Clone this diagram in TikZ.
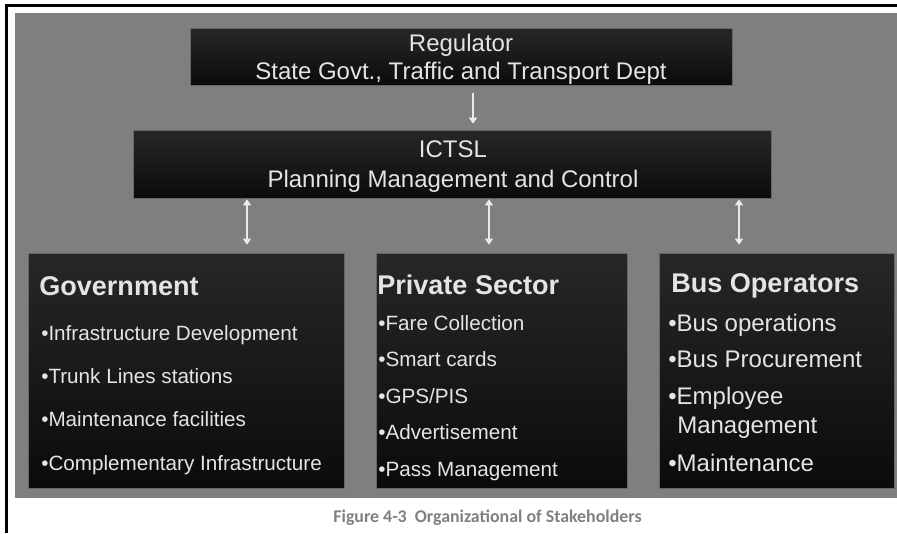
\documentclass[tikz,border=0pt]{standalone}
\usepackage{fontspec}
\setmainfont{Liberation Sans}
\newfontfamily\capfont{Carlito}
\usetikzlibrary{arrows.meta}

\definecolor{panelgray}{HTML}{7F7F7F}
\definecolor{boxtop}{HTML}{272727}
\definecolor{boxbottom}{HTML}{0B0B0B}
\definecolor{boxtext}{HTML}{E4E4E4}
\definecolor{arrowgray}{HTML}{EAEAEA}
\definecolor{capgray}{HTML}{808080}

\tikzset{
  box/.style={rectangle, top color=boxtop, bottom color=boxbottom, draw=black!60, line width=0.4pt, inner sep=0pt},
  title/.style={anchor=base, inner sep=0pt, text=boxtext, font=\fontsize{18}{21}\selectfont},
  head/.style={anchor=base west, inner sep=0pt, text=boxtext, font=\fontsize{20.3}{24}\selectfont\bfseries},
  item/.style={anchor=base west, inner sep=0pt, text=boxtext, font=\fontsize{15.5}{18}\selectfont},
  bigitem/.style={item, font=\fontsize{18}{21}\selectfont},
  flow/.style={draw=arrowgray, line width=1pt, -{Triangle[length=4.5pt,width=6pt]}},
  link/.style={flow, {Triangle[length=4.5pt,width=6pt]}-{Triangle[length=4.5pt,width=6pt]}},
}

\begin{document}
\begin{tikzpicture}[x=0.75pt, y=-0.75pt]
    \useasboundingbox (0,0) rectangle (897,533);

    % page frame and grey panel
    \draw[line width=2.3pt] (6.5,533) -- (6.5,5.5) -- (897,5.5);
    \fill[panelgray] (15,13) rectangle (897,498);

    % boxes
    \node[box, minimum width=406.5pt, minimum height=42.75pt] (reg) at (461,56.5) {};
    \node[box, minimum width=478.5pt, minimum height=51pt] (ictsl) at (452,164) {};
    \node[box, minimum width=237pt, minimum height=176.25pt] (gov) at (186,370.5) {};
    \node[box, minimum width=188.25pt, minimum height=176.25pt] (priv) at (501.5,370.5) {};
    \node[box, minimum width=176.25pt, minimum height=176.25pt] (bus) at (776.5,370.5) {};

    % top two boxes
    \node[title] (regname) at (461,51) {Regulator};
    \node[title] (regdept) at (461,79) {State Govt., Traffic and Transport Dept};
    \node[title] (ictname) at (453,157) {ICTSL};
    \node[title] (ictrole) at (453,187) {Planning Management and Control};

    % government
    \node[head] (govhead) at (39,295) {Government};
    \node[item] (gov1) at (41,340) {•Infrastructure Development};
    \node[item] (gov2) at (41,383) {•Trunk Lines stations};
    \node[item] (gov3) at (41,426) {•Maintenance facilities};
    \node[item] (gov4) at (41,470) {•Complementary Infrastructure};

    % private sector
    \node[head] (privhead) at (377,294) {Private Sector};
    \node[item] (priv1) at (378,330) {•Fare Collection};
    \node[item] (priv2) at (378,366.5) {•Smart cards};
    \node[item] (priv3) at (378,403) {•GPS/PIS};
    \node[item] (priv4) at (378,439.5) {•Advertisement};
    \node[item] (priv5) at (378,476) {•Pass Management};

    % bus operators
    \node[head] (bushead) at (671,292) {Bus Operators};
    \node[bigitem] (bus1) at (668,331) {•Bus operations};
    \node[bigitem] (bus2) at (668,367) {•Bus Procurement};
    \node[bigitem] (bus3) at (668,404) {•Employee};
    \node[bigitem] (bus3b) at (677,433) {Management};
    \node[bigitem] (bus4) at (668,471) {•Maintenance};

    % arrows
    \draw[flow] ([xshift=9pt,yshift=-6pt]reg.south) -- ([xshift=9pt,yshift=4.5pt]reg.south |- ictsl.north);
    \draw[link] ([xshift=45.75pt,yshift=-0.75pt]gov.north |- ictsl.south) -- ([xshift=45.75pt,yshift=6pt]gov.north);
    \draw[link] ([xshift=-9.4pt,yshift=-0.75pt]priv.north |- ictsl.south) -- ([xshift=-9.4pt,yshift=6pt]priv.north);
    \draw[link] ([xshift=-28.1pt,yshift=-0.75pt]bus.north |- ictsl.south) -- ([xshift=-28.1pt,yshift=6pt]bus.north);

    \node[anchor=base, inner sep=0pt, text=capgray, font=\fontsize{13.4}{16}\selectfont\capfont\bfseries] (caption) at (487.5,522) {Figure 4-3\ \ Organizational of Stakeholders};
\end{tikzpicture}
\end{document}
